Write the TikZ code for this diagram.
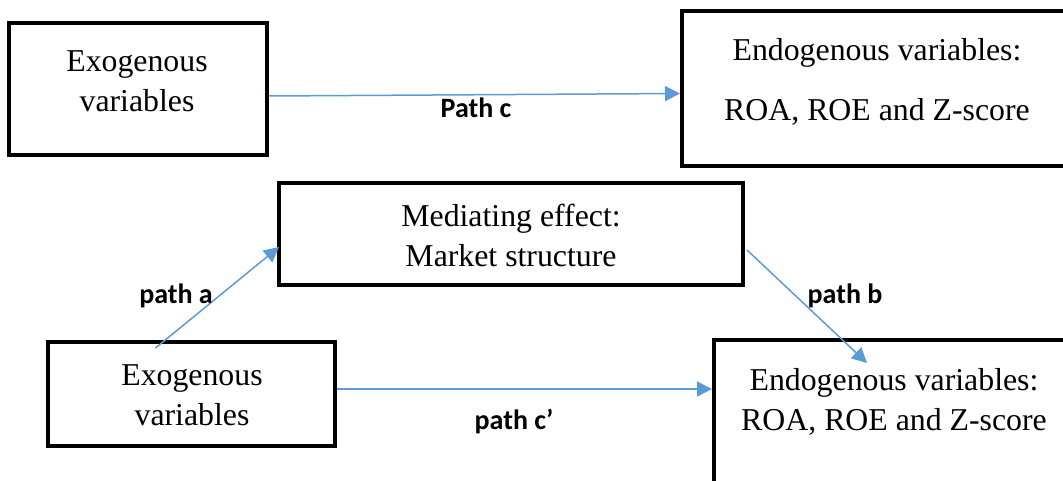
\documentclass[tikz,border=0pt]{standalone}
\usepackage{fontspec}
\setmainfont{Liberation Serif}
\newfontfamily\labelfont{Carlito}
\usepackage{tikz}
\usetikzlibrary{positioning}
\usetikzlibrary{arrows.meta}

\definecolor{linkblue}{HTML}{5B9BD5}

\tikzset{
    box/.style={draw=black, line width=4pt, rectangle, inner sep=0pt},
    boxtext/.style={align=center, inner sep=0pt, font=\fontsize{31.8}{40}\selectfont},
    link/.style={draw=linkblue, line width=1.5pt, -{Triangle[length=15pt, width=15pt]}},
    pathlabel/.style={inner sep=0pt, font=\labelfont\bfseries\fontsize{28}{32}\selectfont}
}

\begin{document}
\begin{tikzpicture}[x=1pt, y=-1pt]
    % Page size of the reference
    \useasboundingbox (0,0) rectangle (1063,481);
    \clip (0,0) rectangle (1063,481);

    % Draw boxes
    \node[box, minimum width=258, minimum height=132] (exoA) at (138,89) {};
    \node[box, minimum width=418, minimum height=155] (endoA) at (891,88.5) {};
    \node[box, minimum width=464, minimum height=102] (med) at (511,234) {};
    \node[box, minimum width=287, minimum height=104] (exoB) at (191.5,394) {};
    \node[box, minimum width=400, minimum height=200] (endoB) at (914,440) {};

    % Add box texts
    \node[boxtext] (exoAtext) at (137,81) {Exogenous\\variables};
    \node[boxtext] (endoAtext) at (877,82) {Endogenous variables:\\[20pt]ROA, ROE and Z-score};
    \node[boxtext] (medtext) at (511,235) {Mediating effect:\\Market structure};
    \node[boxtext] (exoBtext) at (192,395) {Exogenous\\variables};
    \node[boxtext] (endoBtext) at (894,402) {Endogenous variables:\\ROA, ROE and Z-score};

    % Draw the paths
    \draw[link] ([yshift=-7pt]exoA.east) -- ([yshift=-5pt]endoA.west);
    \draw[link] ([xshift=-36pt, yshift=-8pt]exoB.north) -- ([xshift=2pt, yshift=-13pt]med.west);
    \draw[link] ([xshift=2pt, yshift=-16pt]med.east) -- ([xshift=155pt, yshift=-25pt]endoB.north west);
    \draw[link] ([yshift=5pt]exoB.east) -- ([yshift=5pt]exoB.east -| endoB.west);

    % Add path labels
    \node[pathlabel] (labelc) at (476,108) {Path c};
    \node[pathlabel] (labela) at (176,296) {path a};
    \node[pathlabel] (labelb) at (845,296) {path b};
    \node[pathlabel] (labelcp) at (514,422) {path c’};

\end{tikzpicture}
\end{document}
